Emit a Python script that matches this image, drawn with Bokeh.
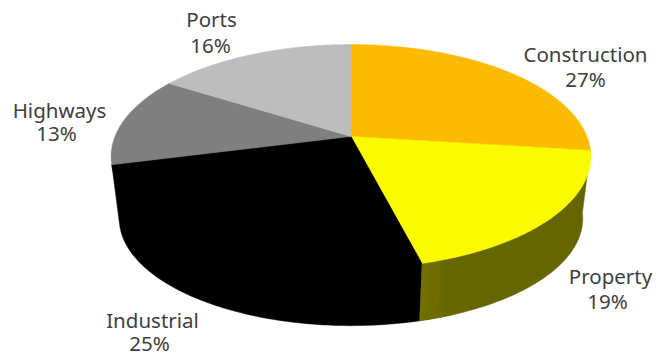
import numpy as np
from bokeh.core.properties import value
from bokeh.embed import file_html
from bokeh.plotting import figure
from bokeh.resources import INLINE

# Sector shares, clockwise from twelve o'clock
categories = ["Construction", "Property", "Industrial", "Highways", "Ports"]
shares = [27, 19, 25, 13, 16]
top_colors = ["#FDBB00", "#FBFB00", "#000000", "#7F7F7F", "#BDBDBD"]
# Only Property and Industrial show a side wall from this viewpoint
wall_colors = [None, "#666600", "#000000", None, None]

# Label placement in page pixels: (centre x, centre y) for each text line
name_anchors = [(585, 53), (610, 275), (152, 319), (59, 109), (211, 18)]
share_anchors = [(585, 78), (607, 300), (149, 342), (56, 132), (210, 44)]

WIDTH, HEIGHT = 666, 355
CX, HUB_Y = 350.5, 136.0
TILT = 0.1786

# Lighter bands on the Property wall next to its Industrial edge
sheen_colors = ["#676700", "#686800", "#6A6A00", "#6C6C00", "#6E6E00", "#707000"]
SHEEN_STEP = np.radians(1.3)


def project(theta, radius, depth, y0):
    """Perspective view of a point on a flat disc at clockwise angle theta."""
    u, v = np.sin(theta), np.cos(theta)
    w = 1 + TILT * v
    return CX + radius * u / w, y0 - depth * v / w


def top_ring(theta):
    return project(theta, 236.0, 108.4, HUB_Y)


def bottom_ring(theta):
    return project(theta, 228.0, 103.6, 199.0)


p = figure(
    width=WIDTH, height=HEIGHT, x_range=(0, WIDTH), y_range=(HEIGHT, 0),
    output_backend="svg", toolbar_location=None, min_border=0,
    outline_line_color=None, background_fill_color="white",
)
p.axis.visible = False
p.grid.visible = False

edges = np.radians(np.concatenate([[0.0], np.cumsum(shares)]) * 3.6)

# Side walls run from the hub so no seam can open under the top faces
for start, stop, color in zip(edges[:-1], edges[1:], wall_colors):
    if color is None:
        continue
    t = np.linspace(stop, start, 100)
    bx, by = bottom_ring(t)
    sx, sy = top_ring(np.array([start]))
    ex, ey = top_ring(np.array([stop]))
    p.patch(np.r_[CX, ex, bx, sx], np.r_[HUB_Y, ey, by, sy],
            fill_color=color, line_color=color, line_width=0.5)

# Soft highlight on the Property wall
property_end = edges[categories.index("Property") + 1]
n_bands = len(sheen_colors)
for i, color in enumerate(sheen_colors):
    t = np.linspace(property_end - (n_bands - i) * SHEEN_STEP,
                    property_end - (n_bands - 1 - i) * SHEEN_STEP, 12)
    tx, ty = top_ring(t)
    bx, by = bottom_ring(t[::-1])
    p.patch(np.r_[tx, bx], np.r_[ty, by], fill_color=color, line_color=color, line_width=0.3)

# Top face of each sector
for start, stop, color in zip(edges[:-1], edges[1:], top_colors):
    t = np.linspace(start, stop, 100)
    ax, ay = top_ring(t)
    p.patch(np.r_[CX, ax], np.r_[HUB_Y, ay], fill_color=color,
            line_color=color, line_width=0.5)

font = value("Noto Sans")
name_x, name_y = zip(*name_anchors)
p.text(list(name_x), list(name_y), text=categories, text_font=font,
       text_font_size="20.5px", text_color="#404040",
       text_align="center", text_baseline="middle")
share_x, share_y = zip(*share_anchors)
p.text(list(share_x), list(share_y), text=[f"{s}%" for s in shares],
       text_font=font, text_font_size="20.5px", text_color="#404040",
       text_align="center", text_baseline="middle")

open("out.html", "w").write(file_html(p, INLINE))
